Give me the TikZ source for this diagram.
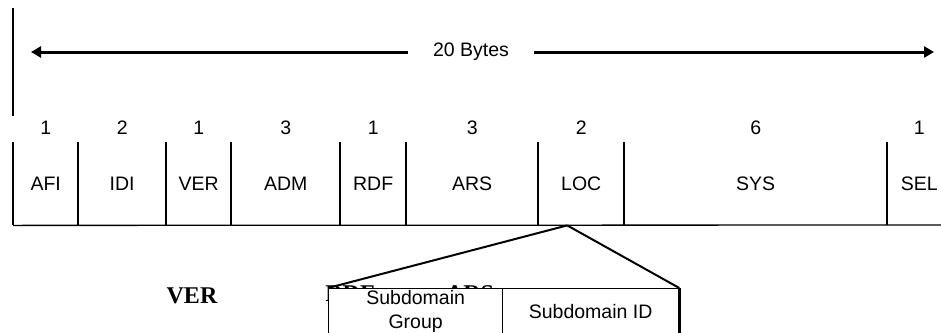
\documentclass[tikz,border=0pt]{standalone}
\usepackage{fontspec}
\setmainfont{Liberation Sans}
\newfontfamily\serifbold{Liberation Serif}
\usetikzlibrary{positioning, arrows.meta}
\tikzstyle{field} = [rectangle, minimum height=83pt, inner sep=0pt, anchor=north west, font=\fontsize{19.5}{23}\selectfont]
\tikzstyle{count} = [inner sep=0pt, font=\fontsize{19.5}{23}\selectfont]
\tikzstyle{subbox} = [rectangle, draw=black, line width=1.3pt, fill=white, minimum height=46pt, inner sep=0pt, anchor=north west, align=center, font=\fontsize{19.5}{24}\selectfont]
\tikzstyle{sep} = [line width=1.3pt]
\tikzstyle{heavy} = [line width=2.6pt]
\tikzstyle{arrow} = [line width=3pt,-{Triangle[length=10pt,width=11pt]}]
\tikzstyle{caption} = [inner sep=0pt, font=\serifbold\bfseries\fontsize{24}{26}\selectfont]

\begin{document}
\begin{tikzpicture}[x=1pt,y=-1pt]
\useasboundingbox (0,0) rectangle (941,332);
% total length
\coordinate (bartop) at (13,8);
\coordinate (barbot) at (13,116);
\draw[heavy] (bartop) -- (barbot);
\node (bytes) [count, inner xsep=25pt] at (471,52) {20 Bytes};
\coordinate (ltip) at (31,52);
\coordinate (rtip) at (934,52);
\draw[arrow] (bytes) -- (ltip);
\draw[arrow] (bytes) -- (rtip);

% fields
\node (afi) [field, minimum width=65pt] at (13,142) {AFI};
\node (idi) [field, minimum width=88pt] at (78,142) {IDI};
\node (ver) [field, minimum width=65pt] at (166,142) {VER};
\node (adm) [field, minimum width=109pt] at (231,142) {ADM};
\node (rdf) [field, minimum width=66pt] at (340,142) {RDF};
\node (ars) [field, minimum width=132pt] at (406,142) {ARS};
\node (loc) [field, minimum width=86pt] at (538,142) {LOC};
\node (sys) [field, minimum width=263pt] at (624,142) {SYS};
\node (sel) [field, minimum width=64pt] at (887,142) {SEL};

% byte counts
\node (nafi) [count, above=7pt of afi] {1};
\node (nidi) [count, above=7pt of idi] {2};
\node (nver) [count, above=7pt of ver] {1};
\node (nadm) [count, above=7pt of adm] {3};
\node (nrdf) [count, above=7pt of rdf] {1};
\node (nars) [count, above=7pt of ars] {3};
\node (nloc) [count, above=7pt of loc] {2};
\node (nsys) [count, above=7pt of sys] {6};
\node (nsel) [count, above=7pt of sel] {1};

% separators
\draw[heavy] (afi.north west) -- (afi.south west);
\draw[sep] (idi.north west) -- (idi.south west);
\draw[sep] (ver.north west) -- (ver.south west);
\draw[heavy] (adm.north west) -- (adm.south west);
\draw[sep] (rdf.north west) -- (rdf.south west);
\draw[sep] (ars.north west) -- (ars.south west);
\draw[heavy] (loc.north west) -- (loc.south west);
\draw[sep] (sys.north west) -- (sys.south west);
\draw[sep] (sel.north west) -- (sel.south west);
\coordinate (bend) at (941,225);
\draw[sep] (afi.south west) -- (bend);

% repeated names, mostly hidden
\node (cver) [caption] at (192,296) {VER};
\node (crdf) [caption] at (350,294) {RDF};
\node (cars) [caption] at (470,294) {ARS};

% LOC detail
\node (sgrp) [subbox, minimum width=174pt] at (328,288) {Subdomain\\Group};
\node (sid) [subbox, minimum width=176pt] at (502,288) {Subdomain ID};
\draw[heavy] (sid.north east) -- (sid.south east);
\coordinate (zoomtip) at ([xshift=-14pt]loc.south);
\draw[line width=2pt] (zoomtip) -- (sgrp.north west);
\draw[line width=2pt] (zoomtip) -- (sid.north east);
\end{tikzpicture}
\end{document}
